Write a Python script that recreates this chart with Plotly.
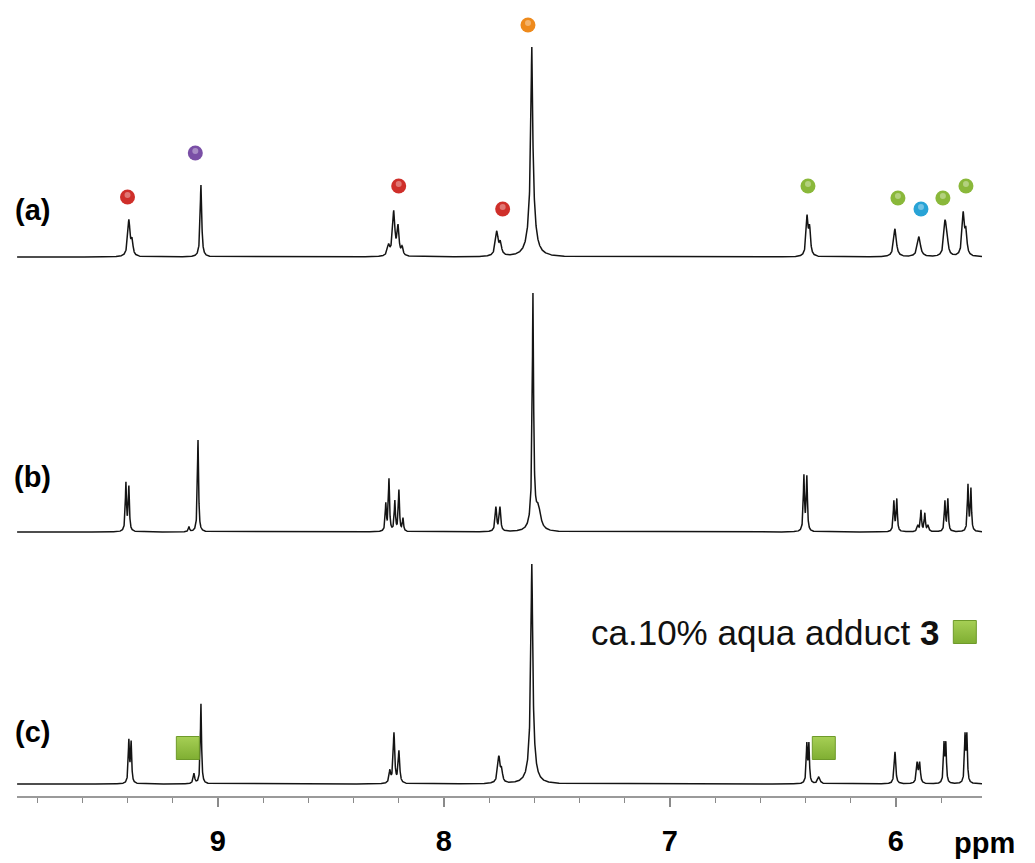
import numpy as np
import plotly.graph_objects as go

# ---------------- data ----------------
# peak lists: chemical shift (ppm), height (arbitrary units), half-width (ppm)
a_ppm = [9.394, 9.380, 9.075, 8.245, 8.222, 8.203, 8.185, 7.766, 7.750, 7.611, 7.611, 6.393, 6.382,
         6.004, 5.898, 5.783, 5.775, 5.702, 5.690]
a_int = [36, 14, 72, 10, 44, 28, 8, 24, 12, 140, 70, 38, 26, 28, 20, 30, 18, 42, 22]
a_wid = [0.006, 0.005, 0.004, 0.006, 0.006, 0.005, 0.005, 0.007, 0.006, 0.004, 0.014, 0.005, 0.005,
         0.007, 0.008, 0.006, 0.006, 0.006, 0.005]

b_ppm = [9.407, 9.394, 9.128, 9.088, 8.257, 8.243, 8.217, 8.199, 8.181, 7.770, 7.752, 7.606, 7.606, 7.582,
         6.407, 6.394, 6.009, 5.996, 5.903, 5.889, 5.872, 5.858, 5.783, 5.770, 5.681, 5.668]
b_int = [48, 44, 5, 92, 27, 52, 30, 41, 13, 24, 24, 200, 35, 20,
         55, 54, 30, 32, 6, 21, 18, 6, 30, 32, 46, 42]
b_wid = [0.003, 0.003, 0.003, 0.003, 0.003, 0.003, 0.003, 0.003, 0.003, 0.004, 0.004, 0.003, 0.010, 0.012,
         0.003, 0.003, 0.003, 0.003, 0.004, 0.003, 0.003, 0.004, 0.003, 0.003, 0.003, 0.003]

c_ppm = [9.394, 9.384, 9.106, 9.075, 8.239, 8.221, 8.199, 7.757, 7.745, 7.611, 7.611, 6.394, 6.385, 6.341,
         6.004, 5.906, 5.895, 5.787, 5.779, 5.694, 5.686]
c_int = [42, 40, 10, 80, 12, 50, 32, 26, 12, 160, 60, 38, 38, 7,
         32, 20, 20, 38, 38, 46, 46]
c_wid = [0.003, 0.003, 0.004, 0.003, 0.004, 0.004, 0.004, 0.006, 0.005, 0.004, 0.012, 0.003, 0.003, 0.006,
         0.004, 0.004, 0.004, 0.003, 0.003, 0.003, 0.003]

# vertical offsets of the stacked spectra
offsets = {"a": 539, "b": 264, "c": 12}
labels = ["(a)", "(b)", "(c)"]

# assignment balls above spectrum (a): ppm, height above baseline, colour
ball_ppm = [9.40, 9.10, 8.20, 7.74, 7.628, 6.389, 5.991, 5.889, 5.792, 5.690]
ball_h = [60, 104, 71, 48, 232, 71, 59, 48, 59, 71]
ball_col = ["#cf2f2a", "#7a4fa6", "#cf2f2a", "#cf2f2a", "#ee8a1c",
            "#8ab83a", "#8ab83a", "#28a3d6", "#8ab83a", "#8ab83a"]

# aqua-adduct square markers on spectrum (c)
sq_ppm = [9.133, 6.319]
sq_h = [36, 36]

x_range = [9.889, 5.619]
tick_vals = [9, 8, 7, 6]
tick_text = ["9", "8", "7", "6"]

# ---------------- build ----------------
x = np.arange(x_range[1], x_range[0], 0.0005)


def spectrum(ppm, inten, wid):
    y = np.zeros_like(x)
    for p, h, w in zip(ppm, inten, wid):
        y += h / (1.0 + ((x - p) / w) ** 2)
    return y


fig = go.Figure()
for key, (pp, ii, ww) in zip(["a", "b", "c"], [(a_ppm, a_int, a_wid), (b_ppm, b_int, b_wid), (c_ppm, c_int, c_wid)]):
    fig.add_trace(go.Scatter(x=x, y=spectrum(pp, ii, ww) + offsets[key], mode="lines",
                             line=dict(color="#141414", width=1.5), hoverinfo="skip", showlegend=False))

# balls
fig.add_trace(go.Scatter(
    x=ball_ppm, y=[offsets["a"] + h for h in ball_h], mode="markers", showlegend=False, cliponaxis=False,
    marker=dict(size=15, color=ball_col, line=dict(width=0),
                gradient=dict(type="radial", color=ball_col))))
fig.add_trace(go.Scatter(
    x=ball_ppm, y=[offsets["a"] + h + 2 for h in ball_h], mode="markers", showlegend=False, cliponaxis=False,
    marker=dict(size=6, color="rgba(255,255,255,0.35)", line=dict(width=0))))

# squares
sq_style = dict(symbol="square", size=23, color="#a6cf55", line=dict(color="#6e9a2a", width=1),
                gradient=dict(type="vertical", color="#7fae32"))
fig.add_trace(go.Scatter(x=sq_ppm, y=[offsets["c"] + h for h in sq_h], mode="markers", showlegend=False,
                         cliponaxis=False, marker=sq_style))
fig.add_trace(go.Scatter(x=[5.695], y=[164], mode="markers", showlegend=False, cliponaxis=False,
                         marker=sq_style))

bold = dict(family="Liberation Sans, Arial, sans-serif", size=29, color="#000000", weight="bold")
ann = []
for lab, yy in zip(labels, [586, 319, 64]):
    ann.append(dict(x=9.819, y=yy, text=lab, showarrow=False, font=bold, xanchor="center", yanchor="middle"))
ann.append(dict(x=(985 - 17) / 965, xref="paper", y=-47 / 788, yref="paper", text="ppm", showarrow=False,
                font=bold, xanchor="center", yanchor="middle"))
ann.append(dict(x=5.80, y=164, text="ca.10% aqua adduct <b>3</b>", showarrow=False, xanchor="right",
                yanchor="middle", font=dict(family="Liberation Sans, Arial, sans-serif", size=35, color="#111111")))

fig.update_layout(
    width=1027, height=855, margin=dict(l=9, r=53, t=0, b=67),
    paper_bgcolor="white", plot_bgcolor="white", annotations=ann,
    xaxis=dict(range=x_range, showgrid=False, zeroline=False, showline=True, linecolor="#9a9a9a", linewidth=2,
               ticks="outside", ticklen=9, tickwidth=1.5, tickcolor="#8a8a8a",
               tickmode="array", tickvals=tick_vals, ticktext=tick_text,
               tickfont=bold, ticklabelstandoff=9,
               minor=dict(ticks="outside", dtick=0.2, tick0=6, ticklen=5, tickwidth=1, tickcolor="#8a8a8a")),
    yaxis=dict(range=[0, 788], visible=False, fixedrange=True),
)
fig.write_html("out.html")
